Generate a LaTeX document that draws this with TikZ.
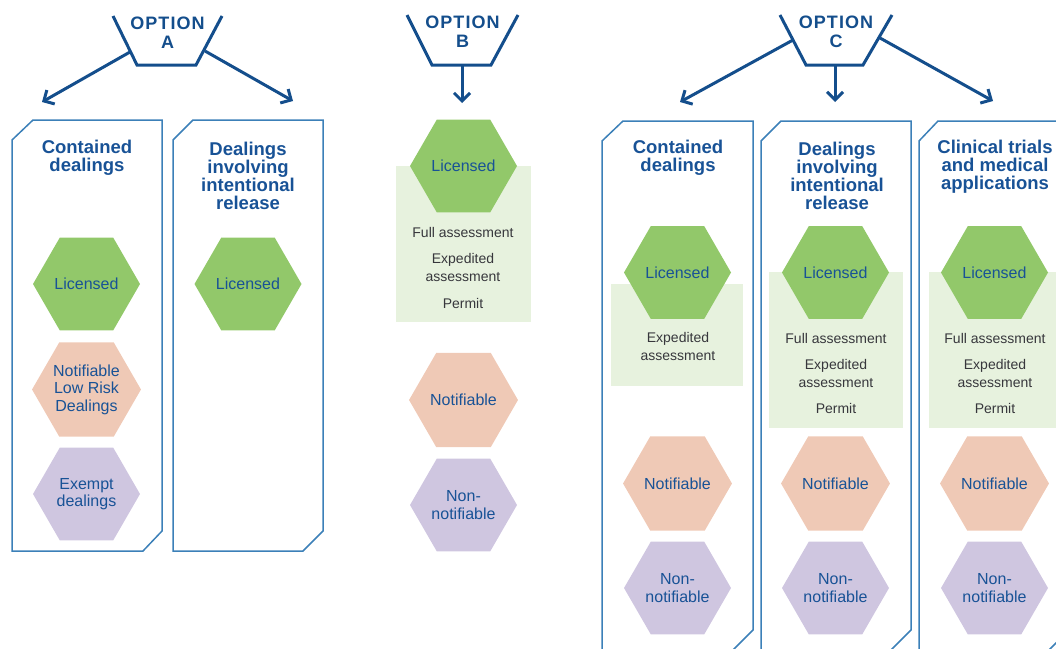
\documentclass[tikz,border=0pt]{standalone}
\usepackage{fontspec}
\setmainfont{Liberation Sans}
\usetikzlibrary{shapes.geometric,arrows.meta}

\definecolor{optblue}{RGB}{20,78,140}
\definecolor{panelblue}{RGB}{60,128,184}
\definecolor{textblue}{RGB}{24,82,150}
\definecolor{licgreen}{RGB}{146,200,106}
\definecolor{notpink}{RGB}{239,201,182}
\definecolor{nonpurple}{RGB}{207,198,224}
\definecolor{boxgreen}{RGB}{231,242,222}
\definecolor{assessgray}{RGB}{55,55,60}

\tikzset{
    hex/.style={regular polygon, regular polygon sides=6, minimum size=107pt, inner sep=0pt,
        align=center, text=textblue, font=\fontsize{16}{17.5}\selectfont},
    licensed/.style={hex, fill=licgreen},
    notifiable/.style={hex, fill=notpink},
    nonnotifiable/.style={hex, fill=nonpurple},
    panel/.style={draw=panelblue, line width=1.5pt, line join=miter},
    optshape/.style={draw=optblue, line width=3pt},
    optarrow/.style={draw=optblue, line width=3pt, -{Straight Barb[length=8pt,width=16pt]}},
    optlabel/.style={text=optblue, align=center, inner sep=0pt,
        font=\fontsize{18}{19}\selectfont\bfseries\addfontfeatures{LetterSpace=6}},
    paneltitle/.style={text=textblue, align=center, inner sep=0pt, font=\fontsize{18.5}{18}\selectfont\bfseries},
    assess/.style={text=assessgray, align=center, inner sep=0pt, font=\fontsize{14}{18}\selectfont},
    greenbox/.style={fill=boxgreen}
}

\begin{document}
\begin{tikzpicture}[x=1pt,y=-1pt]
    \useasboundingbox (0,0) rectangle (1056,648);
    \clip (0,0) rectangle (1056,648);

    \draw [optshape](113,16) -- (137,65) -- (196,65) -- (222,16);
    \node [optlabel] (optA) at (167.5,32.5) {OPTION\\A};
    \draw [optshape](407,15) -- (432,65) -- (491,65) -- (518,15);
    \node [optlabel] (optB) at (462.5,32) {OPTION\\B};
    \draw [optshape](780,15) -- (806,65) -- (863,65) -- (892,15);
    \node [optlabel] (optC) at (836,32) {OPTION\\C};

    \coordinate (a-left) at (130,52);
    \coordinate (a-right) at (205,51);
    \coordinate (a-tip1) at (42,102);
    \coordinate (a-tip2) at (293,101);
    \coordinate (b-start) at (462,65);
    \coordinate (b-tip) at (462,103);
    \coordinate (c-left) at (793,40);
    \coordinate (c-mid) at (835,65);
    \coordinate (c-right) at (880,38);
    \coordinate (c-tip1) at (680,102);
    \coordinate (c-tip2) at (835,102);
    \coordinate (c-tip3) at (993,101);

    \draw [optarrow](a-left) -- (a-tip1);
    \draw [optarrow](a-right) -- (a-tip2);
    \draw [optarrow](b-start) -- (b-tip);
    \draw [optarrow](c-left) -- (c-tip1);
    \draw [optarrow](c-mid) -- (c-tip2);
    \draw [optarrow](c-right) -- (c-tip3);

    \draw [panel](12,140) -- (33,120) -- (162,120) -- (162,531) -- (143,551) -- (12,551) -- cycle;
    \draw [panel](173,140) -- (193,120) -- (323,120) -- (323,531) -- (303,551) -- (173,551) -- cycle;
    \draw [panel](602,141) -- (623,121) -- (753,121) -- (753,630) -- (733,650) -- (602,650) -- cycle;
    \draw [panel](761,141) -- (781,121) -- (911,121) -- (911,630) -- (891,650) -- (761,650) -- cycle;
    \draw [panel](919,141) -- (938,121) -- (1069,121) -- (1069,630) -- (1049,650) -- (919,650) -- cycle;

    \node [paneltitle] (a-contained) at (87,158) {Contained\\dealings};
    \node [paneltitle] (a-release) at (248,176) {Dealings\\involving\\intentional\\release};
    \node [paneltitle] (c-contained) at (678,158) {Contained\\dealings};
    \node [paneltitle] (c-release) at (837,176) {Dealings\\involving\\intentional\\release};
    \node [paneltitle] (c-clinical) at (995,167) {Clinical trials\\and medical\\applications};

    \fill [greenbox](396,166) rectangle (531,322);
    \fill [greenbox](611,284) rectangle (743,386);
    \fill [greenbox](769,272) rectangle (903,428);
    \fill [greenbox](929,272) rectangle (1062,428);

    \node [licensed] (a-lic1) at (86.5,284) {Licensed};
    \node [notifiable] (a-lowrisk) at (86.5,389.5) {Notifiable\\Low Risk\\Dealings};
    \node [nonnotifiable] (a-exempt) at (86.5,494) {Exempt\\dealings};
    \node [licensed] (a-lic2) at (248,284) {Licensed};

    \node [licensed] (b-lic) at (463.5,166) {Licensed};
    \node [assess] (b-full) at (463,232) {Full assessment};
    \node [assess] (b-exp) at (463,267) {Expedited\\assessment};
    \node [assess] (b-permit) at (463,303) {Permit};
    \node [notifiable] (b-notif) at (463.5,400) {Notifiable};
    \node [nonnotifiable] (b-non) at (463.5,505) {Non-\\notifiable};

    \node [licensed] (c-lic1) at (677.5,272.5) {Licensed};
    \node [assess] (c-exp1) at (678,346.5) {Expedited\\assessment};
    \node [notifiable] (c-notif1) at (677.5,483.5) {Notifiable};
    \node [nonnotifiable] (c-non1) at (677.5,588) {Non-\\notifiable};

    \node [licensed] (c-lic2) at (835.5,272.5) {Licensed};
    \node [assess] (c-full2) at (836,338) {Full assessment};
    \node [assess] (c-exp2) at (836,373) {Expedited\\assessment};
    \node [assess] (c-permit2) at (836,408) {Permit};
    \node [notifiable] (c-notif2) at (835.5,483.5) {Notifiable};
    \node [nonnotifiable] (c-non2) at (835.5,588) {Non-\\notifiable};

    \node [licensed] (c-lic3) at (994.5,272.5) {Licensed};
    \node [assess] (c-full3) at (995,338) {Full assessment};
    \node [assess] (c-exp3) at (995,373) {Expedited\\assessment};
    \node [assess] (c-permit3) at (995,408) {Permit};
    \node [notifiable] (c-notif3) at (994.5,483.5) {Notifiable};
    \node [nonnotifiable] (c-non3) at (994.5,588) {Non-\\notifiable};
\end{tikzpicture}
\end{document}
